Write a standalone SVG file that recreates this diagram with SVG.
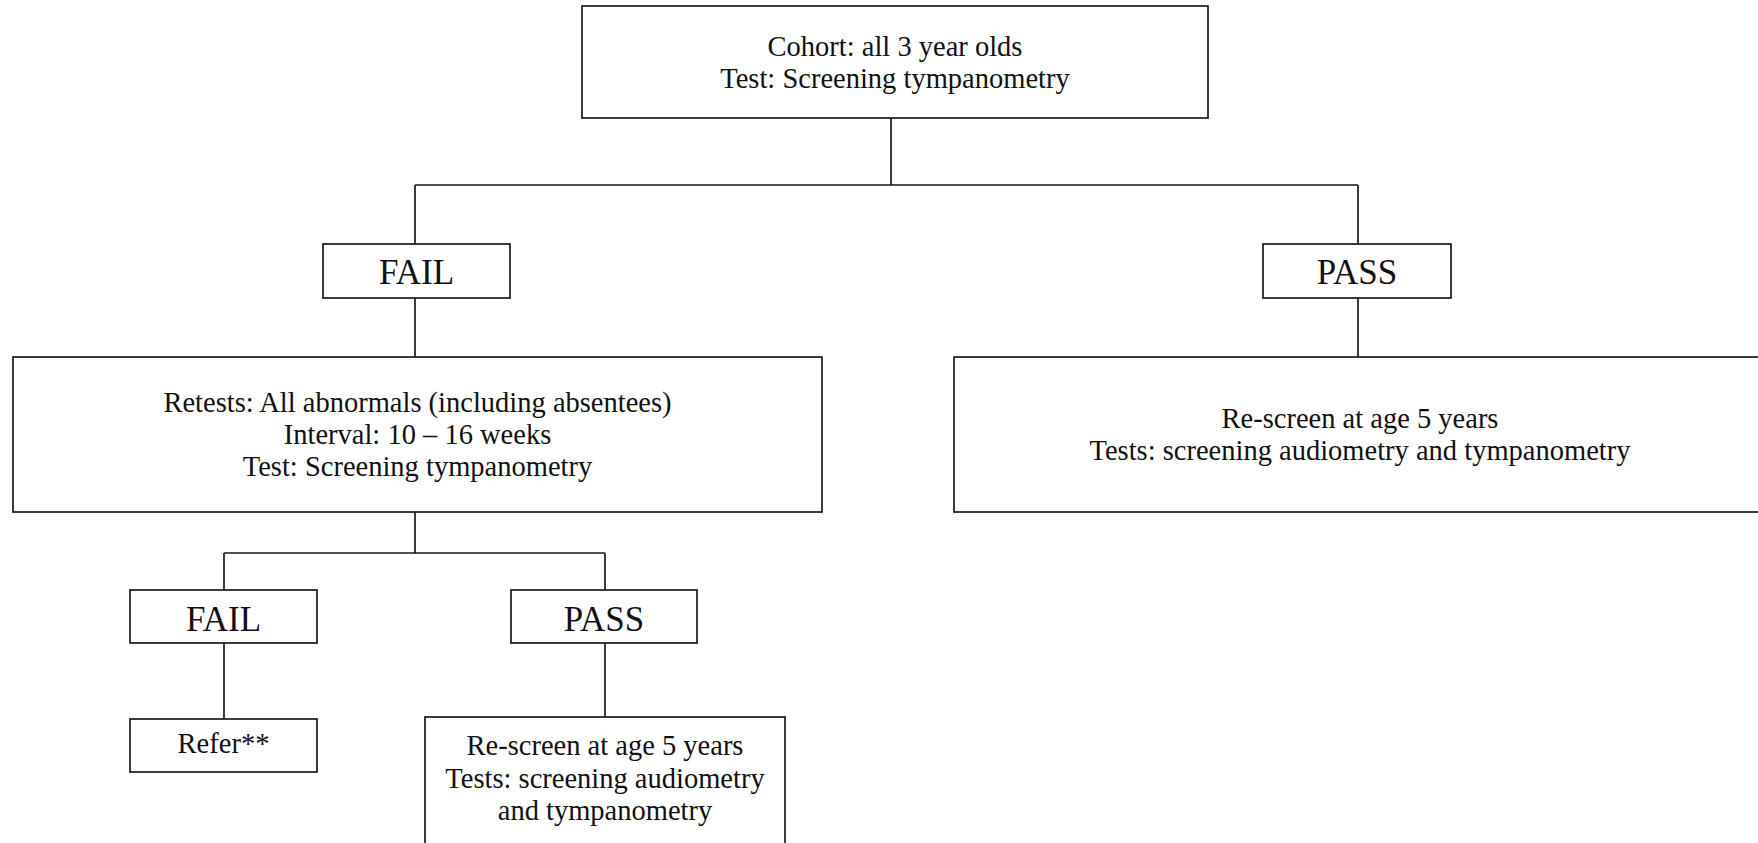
<svg xmlns="http://www.w3.org/2000/svg" width="1758" height="843" viewBox="0 0 1758 843">
  <style>
    .box { fill: #ffffff; stroke: #1a1a1a; stroke-width: 1.7; }
    .conn { fill: none; stroke: #1a1a1a; stroke-width: 1.7; }
    .t { font-family: "Liberation Serif", "Times New Roman", serif; font-size: 28.5px; fill: #111111; text-anchor: middle; }
    .big { font-size: 35px; }
  </style>
  <rect width="1758" height="843" fill="#ffffff"/>
  <g id="connectors">
    <path class="conn" d="M891,118 V185 M415,185 H1358 M415,185 V244 M1358,185 V244"/>
    <path class="conn" d="M415,298 V357"/>
    <path class="conn" d="M1358,298 V357"/>
    <path class="conn" d="M415,512 V553 M224,553 H605 M224,553 V590 M605,553 V590"/>
    <path class="conn" d="M224,643 V719"/>
    <path class="conn" d="M605,643 V717"/>
  </g>
  <g id="cohort">
    <rect class="box" x="582" y="6" width="626" height="112"/>
    <text class="t" x="895" y="56">Cohort: all 3 year olds</text>
    <text class="t" x="895" y="88">Test: Screening tympanometry</text>
  </g>
  <g id="fail1">
    <rect class="box" x="323" y="244" width="187" height="54"/>
    <text class="t big" x="416.5" y="284">FAIL</text>
  </g>
  <g id="pass1">
    <rect class="box" x="1263" y="244" width="188" height="54"/>
    <text class="t big" x="1357" y="284">PASS</text>
  </g>
  <g id="retests">
    <rect class="box" x="13" y="357" width="809" height="155"/>
    <text class="t" x="417.5" y="412">Retests: All abnormals (including absentees)</text>
    <text class="t" x="417.5" y="444">Interval: 10 – 16 weeks</text>
    <text class="t" x="417.5" y="476">Test: Screening tympanometry</text>
  </g>
  <g id="rescreen1">
    <rect class="box" x="954" y="357" width="812" height="155"/>
    <text class="t" x="1360" y="428">Re-screen at age 5 years</text>
    <text class="t" x="1360" y="460">Tests: screening audiometry and tympanometry</text>
  </g>
  <g id="fail2">
    <rect class="box" x="130" y="590" width="187" height="53"/>
    <text class="t big" x="223.5" y="631">FAIL</text>
  </g>
  <g id="pass2">
    <rect class="box" x="511" y="590" width="186" height="53"/>
    <text class="t big" x="604" y="631">PASS</text>
  </g>
  <g id="refer">
    <rect class="box" x="130" y="719" width="187" height="53"/>
    <text class="t" x="223.5" y="753">Refer**</text>
  </g>
  <g id="rescreen2">
    <rect class="box" x="425" y="717" width="360" height="150"/>
    <text class="t" x="605" y="755">Re-screen at age 5 years</text>
    <text class="t" x="605" y="788">Tests: screening audiometry</text>
    <text class="t" x="605" y="820">and tympanometry</text>
  </g>
</svg>
